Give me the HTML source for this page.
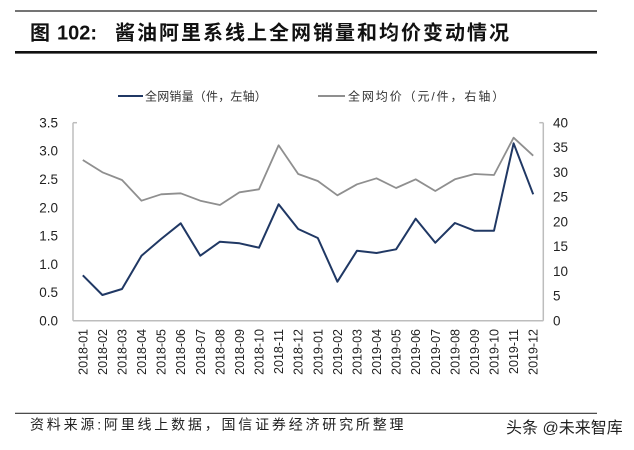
<!DOCTYPE html>
<html><head><meta charset="utf-8"><style>
html,body{margin:0;padding:0;background:#fff;}
svg{display:block;}
text{font-family:"Liberation Sans","Noto Sans CJK SC",sans-serif;}
.cjk{font-family:"Liberation Sans","Noto Sans CJK SC",sans-serif;}
</style></head><body>
<svg width="634" height="450" viewBox="0 0 634 450" xmlns="http://www.w3.org/2000/svg">
<rect width="634" height="450" fill="#fff"/>
<!-- header lines -->
<line x1="15" y1="11" x2="597" y2="11" stroke="#222" stroke-width="1.2"/>
<line x1="15" y1="52.3" x2="597" y2="52.3" stroke="#111" stroke-width="2.6"/>
<text x="30" y="39.5" font-size="20" font-weight="bold" fill="#111" class="cjk">图</text>
<text x="57" y="39.5" font-size="20" font-weight="bold" fill="#111">102:</text>
<text x="115" y="39.5" font-size="20" font-weight="bold" fill="#111" letter-spacing="2.0" class="cjk">酱油阿里系线上全网销量和均价变动情况</text>

<!-- legend -->
<line x1="118" y1="96" x2="143" y2="96" stroke="#203864" stroke-width="2"/>
<text x="145" y="100.5" font-size="12" fill="#333" letter-spacing="0.2" class="cjk">全网销量（件，左轴）</text>
<line x1="318" y1="96" x2="345" y2="96" stroke="#8f8f8f" stroke-width="2"/>
<text x="348" y="100.5" font-size="12" fill="#333" letter-spacing="1.9" class="cjk">全网均价（元/件，右轴）</text>

<!-- axes -->
<g stroke="#bdbdbd" stroke-width="1.5" fill="none">
<line x1="73" y1="122.7" x2="73" y2="320.7"/>
<line x1="543.3" y1="122.7" x2="543.3" y2="320.7"/>
<line x1="73" y1="320.7" x2="543.3" y2="320.7"/>
<line x1="73" y1="122.7" x2="77" y2="122.7"/>
<line x1="539.3" y1="122.7" x2="543.3" y2="122.7"/>
</g>

<!-- left labels -->
<g font-size="13.5" fill="#222" text-anchor="end">
<text x="58" y="325.5">0.0</text>
<text x="58" y="297.2">0.5</text>
<text x="58" y="268.9">1.0</text>
<text x="58" y="240.6">1.5</text>
<text x="58" y="212.3">2.0</text>
<text x="58" y="184.0">2.5</text>
<text x="58" y="155.7">3.0</text>
<text x="58" y="127.4">3.5</text>
</g>
<!-- right labels -->
<g font-size="13.5" fill="#222" text-anchor="start">
<text x="553" y="325.5">0</text>
<text x="553" y="300.7">5</text>
<text x="553" y="276.0">10</text>
<text x="553" y="251.2">15</text>
<text x="553" y="226.5">20</text>
<text x="553" y="201.7">25</text>
<text x="553" y="177.0">30</text>
<text x="553" y="152.2">35</text>
<text x="553" y="127.4">40</text>
</g>

<!-- x labels -->
<g font-size="12.5" fill="#222" text-anchor="end">
<text transform="translate(87.3,329) rotate(-90)">2018-01</text>
<text transform="translate(106.9,329) rotate(-90)">2018-02</text>
<text transform="translate(126.5,329) rotate(-90)">2018-03</text>
<text transform="translate(146.0,329) rotate(-90)">2018-04</text>
<text transform="translate(165.6,329) rotate(-90)">2018-05</text>
<text transform="translate(185.2,329) rotate(-90)">2018-06</text>
<text transform="translate(204.8,329) rotate(-90)">2018-07</text>
<text transform="translate(224.4,329) rotate(-90)">2018-08</text>
<text transform="translate(244.0,329) rotate(-90)">2018-09</text>
<text transform="translate(263.5,329) rotate(-90)">2018-10</text>
<text transform="translate(283.1,329) rotate(-90)">2018-11</text>
<text transform="translate(302.7,329) rotate(-90)">2018-12</text>
<text transform="translate(322.3,329) rotate(-90)">2019-01</text>
<text transform="translate(341.9,329) rotate(-90)">2019-02</text>
<text transform="translate(361.5,329) rotate(-90)">2019-03</text>
<text transform="translate(381.0,329) rotate(-90)">2019-04</text>
<text transform="translate(400.6,329) rotate(-90)">2019-05</text>
<text transform="translate(420.2,329) rotate(-90)">2019-06</text>
<text transform="translate(439.8,329) rotate(-90)">2019-07</text>
<text transform="translate(459.4,329) rotate(-90)">2019-08</text>
<text transform="translate(479.0,329) rotate(-90)">2019-09</text>
<text transform="translate(498.5,329) rotate(-90)">2019-10</text>
<text transform="translate(518.1,329) rotate(-90)">2019-11</text>
<text transform="translate(537.7,329) rotate(-90)">2019-12</text>
</g>

<!-- gray series -->
<polyline fill="none" stroke="#8f8f8f" stroke-width="1.8" stroke-linejoin="round"
points="82.8,160 102.4,172.3 122.0,180 141.5,200.7 161.1,194.3 180.7,193.3 200.3,200.7 219.9,205 239.5,192.3 259.0,189.3 278.6,145.3 298.2,174 317.8,181 337.4,195.3 357.0,184.3 376.5,178.3 396.1,188 415.7,179.3 435.3,191 454.9,179.3 474.5,174 494.0,175 513.6,137.7 533.2,155.7"/>
<!-- blue series -->
<polyline fill="none" stroke="#203864" stroke-width="2" stroke-linejoin="round"
points="82.8,275.3 102.4,295 122.0,289 141.5,255.7 161.1,239 180.7,223.3 200.3,255.7 219.9,241.7 239.5,243.3 259.0,247.7 278.6,204.3 298.2,229 317.8,238 337.4,281.7 357.0,250.7 376.5,253 396.1,249.3 415.7,218.7 435.3,242.7 454.9,223 474.5,230.7 494.0,230.7 513.6,143.3 533.2,194.3"/>

<!-- footer -->
<line x1="15" y1="413.3" x2="597" y2="413.3" stroke="#333" stroke-width="1.2"/>
<text x="30" y="429.3" font-size="14" fill="#222" letter-spacing="2.8" class="cjk">资料来源:阿里线上数据，国信证券经济研究所整理</text>
<text x="506" y="433" font-size="16" fill="#222" class="cjk">头条 @未来智库</text>
</svg>
</body></html>
